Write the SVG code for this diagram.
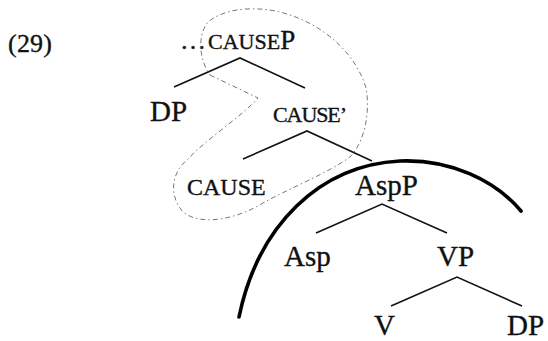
<svg xmlns="http://www.w3.org/2000/svg" width="548" height="341" viewBox="0 0 548 341">
<style>
text{font-family:"Liberation Serif","Times New Roman",serif;fill:#111;stroke:#111;stroke-width:0.35}
.lbl{font-size:29px}
.sc{font-size:22px}
.edge{stroke:#111;stroke-width:1.6;fill:none}
.arc{stroke:#000;stroke-width:3.6;fill:none;stroke-linecap:round}
.lasso{stroke:#777;stroke-width:1;fill:none;stroke-dasharray:5 3 1.5 3}
</style>
<rect width="548" height="341" fill="#fff"/>
<text x="8" y="52" font-size="26" textLength="44">(29)</text>
<g id="causeP"><text x="180" y="49"><tspan font-size="26">…</tspan><tspan font-size="22" x="208">CAUSE</tspan><tspan font-size="27">P</tspan></text></g>
<g id="dp1"><text class="lbl" x="150" y="121">DP</text></g>
<g id="causeBar"><text class="sc" x="273" y="122" font-size="21" textLength="74">CAUSE’</text></g>
<g id="cause"><text x="187" y="195" font-size="24">CAUSE</text></g>
<g id="aspP"><text class="lbl" x="355" y="195">AspP</text></g>
<g id="asp"><text class="lbl" x="284" y="266">Asp</text></g>
<g id="vp"><text class="lbl" x="437" y="266">VP</text></g>
<g id="v"><text class="lbl" x="374" y="335" font-size="28">V</text></g>
<g id="dp2"><text class="lbl" x="507" y="335" font-size="28">DP</text></g>
<g id="connectors">
<polyline class="edge" points="174,87 240,58 305,88"/>
<polyline class="edge" points="243,159 307,131 372,161"/>
<polyline class="edge" points="316,233 382,204 447,233"/>
<polyline class="edge" points="391,306 457,277 522,306"/>
</g>
<g id="annotations">
<path class="arc" d="M239,317 C258,225 320,165 400,161 C450,159 495,180 521,211"/>
<path class="lasso" d="M210,75 L258,98 C240,118 205,140 187,160 C172,172 168,195 183,212 C200,226 235,220 263,203 C290,188 330,172 350,157 C366,140 370,110 366,88 C358,60 330,25 280,12 C250,5 222,10 208,22 C198,34 198,58 210,75 Z"/>
</g>
</svg>
